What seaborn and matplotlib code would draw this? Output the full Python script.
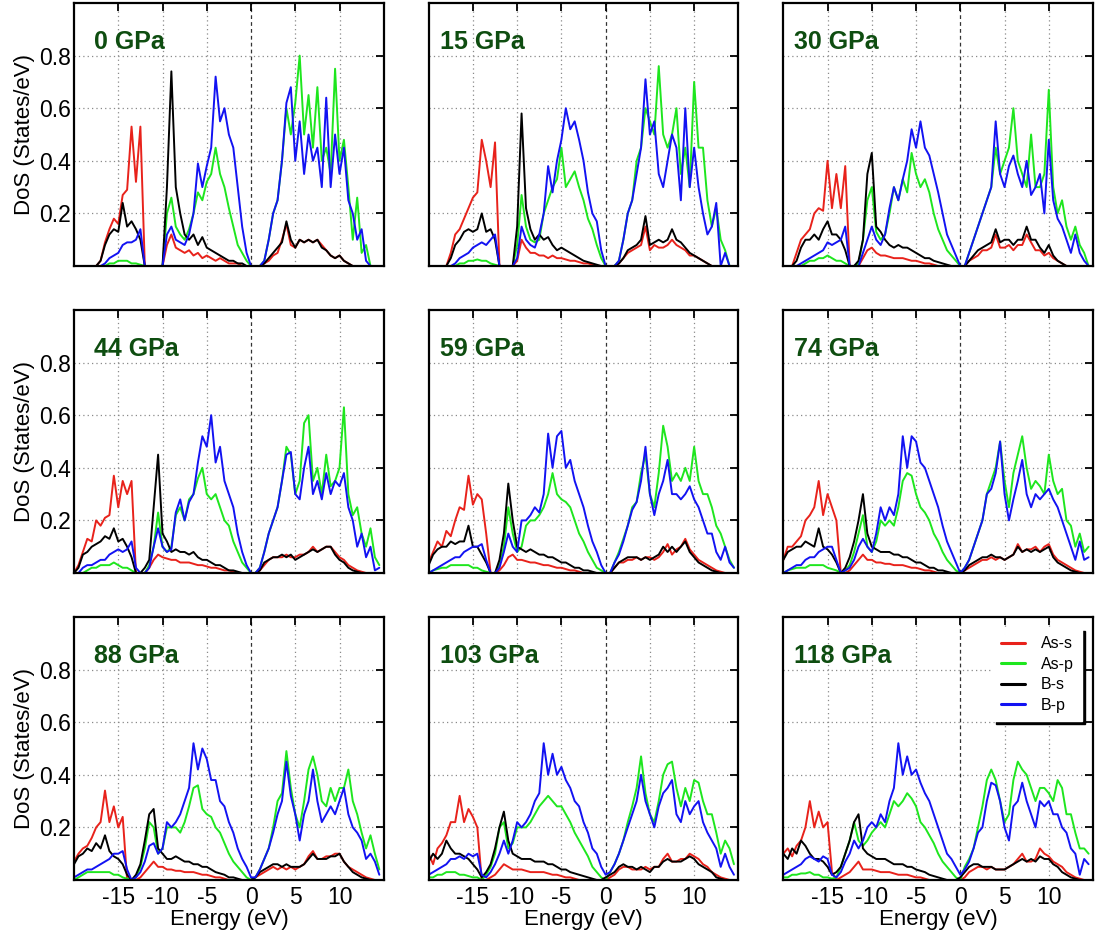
import numpy as np
import pandas as pd
import matplotlib
matplotlib.use("Agg")
import matplotlib.pyplot as plt
import seaborn as sns

# ---------------- data ----------------
pressures = ["0 GPa", "15 GPa", "30 GPa", "44 GPa", "59 GPa", "74 GPa", "88 GPa", "103 GPa", "118 GPa"]
orbitals = ["As-s", "As-p", "B-s", "B-p"]
colors = ["#e8221b", "#1ee61e", "#000000", "#1212f2"]
energy = np.linspace(-20.0, 14.5, 70)   # eV, 0.5 eV grid
xticks = [-15, -10, -5, 0, 5, 10]
yticks = [0.2, 0.4, 0.6, 0.8]

ass_0 = [0,0,0,0,0,0,.02,.09,.14,.18,.16,.27,.29,.53,.32,.53,0,0,0,0,
         0,.08,.12,.07,.06,.05,.06,.04,.05,.03,.04,.03,.02,.03,.02,.01,.01,.01,0,0,0,
         0,0,.01,.02,.04,.05,.1,.16,.08,.07,.1,.09,.1,.09,.1,.08,.06,.04,.03,.04,.02,.01,0,0,0,0,0,0,0]
asp_0 = [0,0,0,0,0,0,0,0,.01,.01,.02,.02,.02,.01,.01,.005,0,0,0,0,
         0,.2,.26,.15,.12,.1,.14,.2,.28,.25,.32,.35,.45,.35,.3,.22,.15,.08,.05,.02,0,
         0,0,.02,.1,.2,.25,.4,.6,.5,.62,.8,.5,.65,.45,.68,.4,.45,.35,.75,.4,.48,.3,.1,.26,.05,.08,0,0,0]
bs_0 = [0,0,0,0,0,0,.02,.08,.12,.14,.13,.24,.15,.17,.14,.1,0,0,0,0,
        0,.3,.74,.3,.2,.12,.1,.12,.08,.11,.07,.06,.05,.04,.03,.02,.02,.01,.01,0,0,
        0,0,.01,.03,.05,.07,.09,.17,.1,.07,.1,.09,.1,.09,.1,.07,.06,.04,.03,.04,.02,.01,0,0,0,0,0,0,0]
bp_0 = [0,0,0,0,0,0,0,.01,.03,.04,.05,.08,.09,.09,.1,.14,0,0,0,0,
        0,.12,.15,.1,.09,.08,.12,.2,.39,.3,.38,.45,.72,.55,.6,.5,.45,.3,.15,.05,0,
        0,0,.02,.1,.2,.25,.4,.62,.68,.4,.55,.35,.5,.4,.45,.3,.64,.3,.5,.35,.45,.25,.2,.1,.14,.02,0,0,0]

ass_15 = [0,0,0,0,0,.05,.12,.14,.18,.22,.26,.28,.48,.4,.3,.47,0,0,0,0,
          .02,.1,.07,.05,.05,.04,.04,.03,.04,.03,.03,.025,.02,.02,.015,.01,.01,.005,0,0,0,
          0,0,.01,.03,.05,.06,.07,.08,.15,.06,.08,.07,.07,.08,.1,.08,.07,.06,.04,.04,.03,.02,.01,0,0,0,0,0,0]
asp_15 = [0,0,0,0,0,0,0,.01,.01,.02,.02,.025,.02,.02,.01,.005,0,0,0,0,
          .08,.27,.15,.1,.09,.1,.2,.25,.3,.33,.45,.3,.33,.36,.3,.25,.18,.14,.08,.03,0,
          0,0,.02,.1,.2,.25,.4,.45,.6,.55,.5,.76,.5,.45,.5,.6,.35,.45,.3,.7,.45,.45,.25,.15,.22,.1,.06,0,0]
bs_15 = [0,0,0,0,0,.03,.08,.1,.13,.14,.13,.14,.2,.13,.14,.1,0,0,0,0,
         .15,.58,.22,.14,.1,.12,.1,.11,.08,.06,.07,.06,.05,.04,.03,.02,.015,.01,.005,0,0,
         0,0,.01,.03,.06,.07,.08,.1,.19,.08,.09,.1,.09,.1,.14,.1,.09,.07,.05,.04,.03,.02,.01,0,0,0,0,0,0]
bp_15 = [0,0,0,0,0,0,.01,.03,.04,.05,.07,.08,.09,.08,.1,.12,0,0,0,0,
         .03,.15,.1,.08,.07,.12,.2,.38,.28,.4,.48,.6,.52,.55,.48,.4,.28,.2,.17,.06,0,
         0,0,.02,.1,.2,.25,.35,.45,.71,.5,.55,.35,.3,.4,.5,.45,.25,.6,.3,.45,.3,.2,.12,.15,.24,0,.05,0,0]

ass_30 = [0,0,0,.05,.1,.12,.14,.2,.22,.21,.4,.22,.35,.22,.38,0,0,0,.03,.06,
          .07,.05,.04,.04,.035,.03,.03,.03,.025,.02,.02,.015,.01,.01,.005,0,0,0,0,0,0,
          0,.02,.03,.04,.06,.06,.07,.12,.07,.07,.08,.06,.08,.08,.12,.09,.06,.06,.04,.05,.03,.02,.01,0,0,0,0,0,0]
asp_30 = [0,0,0,0,0,.01,.02,.02,.03,.03,.04,.03,.02,.02,.01,0,0,.01,.1,.25,
          .3,.13,.1,.12,.2,.3,.25,.33,.28,.43,.35,.3,.33,.28,.2,.14,.1,.06,.04,.02,0,
          0,.05,.1,.15,.2,.25,.3,.45,.35,.4,.45,.6,.4,.35,.3,.5,.3,.3,.35,.67,.3,.2,.25,.15,.1,.15,.08,.05,0]
bs_30 = [0,0,0,.02,.07,.1,.1,.12,.1,.14,.17,.12,.12,.1,.06,0,0,.02,.1,.35,
         .43,.15,.13,.1,.08,.07,.08,.07,.07,.06,.05,.04,.03,.03,.02,.015,.01,.005,0,0,0,
         0,.02,.04,.06,.07,.08,.09,.14,.09,.1,.1,.08,.1,.1,.15,.1,.1,.07,.05,.08,.04,.02,.01,0,0,0,0,0,0]
bp_30 = [0,0,0,0,.01,.02,.03,.04,.05,.06,.09,.08,.09,.1,.15,0,0,0,.05,.1,
         .15,.1,.08,.12,.22,.3,.25,.33,.4,.52,.45,.55,.45,.42,.35,.28,.2,.12,.08,.04,0,
         0,.05,.1,.15,.2,.25,.3,.55,.35,.3,.38,.42,.35,.3,.4,.27,.3,.35,.2,.48,.25,.18,.15,.1,.05,.12,.05,.02,0]

ass_44 = [0,.03,.08,.13,.12,.2,.18,.21,.22,.37,.25,.35,.3,.35,0,0,0,.02,.05,.07,
          .06,.055,.05,.05,.04,.04,.04,.035,.03,.03,.025,.02,.02,.015,.01,.01,.005,0,0,0,0,
          0,.01,.03,.05,.06,.06,.06,.07,.06,.06,.07,.07,.08,.1,.08,.09,.1,.1,.08,.06,.05,.03,.02,.01,.005,0,0,0,0]
asp_44 = [0,0,0,.01,.02,.02,.03,.03,.03,.04,.03,.02,.02,.01,0,0,0,.03,.1,.23,
          .1,.08,.1,.22,.25,.2,.28,.3,.36,.4,.3,.28,.3,.25,.2,.18,.12,.08,.04,.02,0,
          0,.02,.08,.15,.2,.25,.35,.48,.45,.3,.35,.57,.6,.35,.4,.3,.45,.33,.35,.4,.63,.3,.22,.25,.15,.1,.17,.06,.03]
bs_44 = [0,.02,.07,.08,.1,.11,.12,.14,.13,.17,.12,.13,.1,.06,0,0,.02,.05,.25,.45,
         .15,.12,.08,.09,.08,.08,.07,.08,.06,.05,.05,.04,.03,.03,.02,.01,.01,.005,0,0,0,
         0,.01,.04,.05,.06,.06,.07,.06,.07,.05,.06,.07,.08,.09,.08,.09,.1,.1,.07,.05,.04,.02,.01,.005,0,0,0,0,0]
bp_44 = [0,0,.02,.03,.03,.04,.05,.05,.07,.08,.09,.08,.09,.12,.02,0,0,.02,.1,.17,
         .1,.08,.09,.23,.28,.2,.27,.3,.42,.52,.48,.6,.42,.48,.35,.3,.25,.15,.08,.03,0,
         0,.02,.08,.15,.2,.25,.35,.45,.46,.3,.28,.4,.48,.3,.35,.28,.38,.3,.35,.33,.38,.25,.2,.1,.15,.06,.1,.01,.02]

ass_59 = [.04,.08,.12,.1,.16,.14,.2,.25,.24,.37,.26,.3,.28,.15,0,0,.01,.03,.06,.07,
          .05,.05,.045,.04,.04,.035,.03,.03,.025,.02,.02,.015,.01,.01,.005,0,0,0,0,0,0,
          0,.02,.04,.04,.05,.05,.06,.05,.06,.06,.05,.06,.08,.11,.07,.09,.1,.13,.09,.07,.05,.04,.03,.02,.01,.005,0,0,0]
asp_59 = [0,.01,.015,.02,.02,.03,.03,.03,.03,.03,.02,.02,.01,.005,0,0,.03,.1,.25,.15,
          .08,.1,.18,.2,.2,.22,.25,.3,.38,.3,.28,.27,.25,.2,.15,.12,.08,.05,.02,.01,0,
          0,.04,.08,.13,.18,.25,.27,.38,.45,.3,.25,.38,.56,.48,.35,.38,.35,.4,.35,.48,.35,.3,.3,.25,.18,.15,.1,.05,.02]
bs_59 = [.03,.07,.09,.1,.1,.12,.11,.12,.12,.18,.1,.1,.07,.04,0,0,.05,.15,.34,.2,
         .1,.09,.08,.09,.08,.07,.07,.06,.06,.05,.04,.04,.03,.02,.02,.01,.01,.005,0,0,0,
         0,.02,.04,.05,.06,.06,.06,.05,.06,.05,.06,.07,.1,.08,.1,.08,.1,.12,.08,.06,.04,.03,.02,.01,.005,0,0,0,0]
bp_59 = [0,.01,.02,.03,.04,.05,.06,.06,.08,.09,.1,.1,.11,.05,0,0,.02,.08,.15,.1,
         .08,.2,.2,.22,.25,.23,.3,.53,.4,.52,.54,.4,.43,.35,.3,.25,.18,.12,.08,.03,0,
         0,.04,.07,.12,.18,.24,.27,.35,.48,.3,.22,.3,.35,.43,.3,.3,.28,.3,.33,.28,.25,.2,.15,.15,.08,.05,.1,.04,.02]

ass_74 = [.05,.1,.1,.12,.14,.2,.22,.25,.35,.22,.3,.25,.2,0,0,.01,.03,.05,.07,.05,
          .05,.04,.04,.035,.035,.03,.03,.03,.025,.02,.02,.015,.01,.01,.005,0,0,0,0,0,0,
          .01,.02,.03,.04,.05,.05,.06,.05,.06,.05,.06,.07,.11,.08,.09,.09,.1,.08,.1,.11,.07,.05,.04,.03,.02,.01,.005,0,0]
asp_74 = [0,.01,.015,.02,.02,.02,.03,.03,.03,.03,.02,.015,.01,0,.01,.03,.08,.15,.22,.1,
          .08,.12,.2,.18,.2,.18,.25,.35,.38,.37,.3,.25,.23,.2,.15,.12,.08,.05,.03,.01,0,
          .02,.05,.1,.15,.2,.3,.35,.4,.5,.35,.25,.38,.45,.52,.4,.32,.35,.33,.3,.45,.35,.3,.32,.2,.18,.1,.15,.08,.1]
bs_74 = [.05,.08,.09,.1,.1,.12,.11,.1,.17,.1,.09,.07,.04,0,.02,.06,.12,.2,.3,.15,
         .1,.09,.08,.08,.08,.07,.07,.06,.06,.05,.04,.04,.03,.02,.02,.01,.01,.005,0,0,0,
         .01,.03,.04,.05,.06,.06,.07,.06,.06,.05,.06,.07,.1,.08,.09,.08,.09,.08,.09,.1,.06,.04,.03,.02,.01,.005,0,0,0]
bp_74 = [0,.01,.02,.03,.03,.05,.06,.06,.08,.09,.1,.1,.05,0,.01,.02,.05,.1,.13,.1,
         .08,.15,.25,.2,.25,.22,.3,.52,.4,.52,.5,.42,.4,.35,.3,.25,.18,.12,.08,.04,0,
         .02,.05,.1,.15,.2,.3,.32,.38,.5,.3,.2,.28,.35,.43,.3,.25,.3,.28,.3,.32,.28,.25,.2,.15,.1,.05,.12,.05,.06]

ass_88 = [.07,.1,.12,.13,.16,.2,.22,.34,.22,.28,.2,.24,0,0,0,.01,.03,.05,.07,.05,
          .05,.04,.04,.035,.035,.03,.03,.03,.025,.02,.02,.015,.01,.01,.005,0,0,0,0,0,0,
          .01,.02,.03,.04,.05,.04,.05,.04,.05,.04,.05,.06,.09,.11,.08,.08,.09,.09,.1,.1,.07,.05,.04,.03,.02,.01,.005,0,0]
asp_88 = [0,.01,.02,.03,.03,.03,.03,.03,.03,.02,.02,.01,.005,0,.01,.05,.12,.22,.2,.1,
          .12,.2,.2,.2,.18,.22,.28,.35,.36,.27,.25,.24,.2,.18,.14,.1,.07,.05,.03,.01,0,
          .01,.04,.08,.12,.2,.3,.33,.49,.35,.25,.2,.3,.42,.47,.4,.3,.28,.35,.3,.35,.35,.42,.3,.25,.18,.12,.17,.1,.04]
bs_88 = [.06,.09,.1,.12,.11,.14,.12,.17,.11,.09,.08,.06,.02,0,.02,.06,.15,.25,.27,.12,
         .1,.08,.08,.09,.08,.07,.07,.06,.06,.05,.05,.04,.03,.025,.02,.01,.01,.005,0,0,0,
         .01,.03,.04,.05,.06,.06,.05,.06,.05,.05,.05,.06,.08,.1,.08,.08,.08,.09,.09,.1,.07,.05,.03,.02,.01,.005,0,0,0]
bp_88 = [.01,.02,.03,.04,.04,.05,.06,.07,.08,.1,.1,.11,.04,0,.01,.03,.07,.13,.14,.1,
         .12,.22,.2,.22,.25,.3,.35,.52,.42,.5,.46,.38,.38,.3,.28,.22,.18,.12,.08,.05,.01,
         .01,.04,.08,.12,.18,.25,.3,.45,.32,.25,.15,.25,.3,.42,.3,.22,.25,.28,.25,.3,.35,.25,.2,.18,.15,.08,.1,.07,.02]

ass_103 = [.1,.06,.12,.14,.17,.22,.22,.32,.22,.27,.24,.2,0,0,.01,.02,.04,.06,.05,.04,
           .04,.04,.035,.03,.03,.03,.03,.025,.02,.02,.015,.01,.01,.005,0,0,0,0,0,0,0,
           .01,.02,.04,.05,.05,.04,.04,.04,.05,.04,.05,.05,.08,.1,.07,.07,.08,.08,.1,.09,.08,.06,.05,.03,.02,.01,.005,0,0]
asp_103 = [.01,.01,.02,.02,.03,.03,.03,.02,.02,.015,.01,.01,0,.02,.05,.1,.2,.22,.12,.14,
           .2,.2,.2,.22,.25,.28,.3,.32,.3,.28,.28,.25,.22,.18,.15,.12,.09,.05,.03,.01,0,
           .03,.06,.1,.15,.22,.28,.35,.47,.33,.25,.22,.3,.4,.44,.45,.35,.28,.35,.3,.38,.37,.3,.25,.25,.18,.1,.15,.12,.06]
bs_103 = [.07,.1,.08,.1,.15,.12,.1,.1,.09,.08,.06,.04,.01,.03,.06,.12,.2,.26,.15,.1,
          .09,.08,.08,.08,.07,.07,.07,.06,.06,.05,.04,.04,.03,.025,.02,.015,.01,.005,0,0,.01,
          .02,.03,.05,.06,.05,.05,.04,.05,.04,.03,.05,.05,.07,.08,.07,.07,.07,.08,.09,.08,.06,.05,.04,.03,.01,.005,0,0,0]
bp_103 = [.02,.03,.04,.05,.06,.08,.08,.09,.08,.1,.09,.1,.02,.01,.03,.06,.1,.15,.1,.15,
          .22,.2,.22,.25,.3,.33,.52,.4,.48,.4,.43,.38,.35,.3,.28,.22,.18,.12,.1,.05,.02,
          .03,.06,.1,.15,.2,.25,.3,.4,.3,.25,.2,.28,.33,.35,.38,.25,.22,.3,.25,.28,.3,.22,.18,.15,.12,.05,.1,.05,.02]

ass_118 = [.1,.12,.09,.13,.15,.2,.3,.2,.26,.2,.22,.03,0,.01,.02,.03,.05,.07,.04,.04,
           .04,.035,.03,.03,.03,.025,.02,.02,.02,.015,.01,.01,.005,0,0,0,0,0,0,0,0,
           .01,.03,.04,.05,.05,.04,.05,.04,.04,.04,.05,.06,.08,.1,.07,.07,.08,.12,.1,.09,.07,.06,.05,.03,.02,.01,.005,0,0]
asp_118 = [.01,.01,.02,.02,.025,.025,.03,.02,.02,.01,.01,.005,.01,.05,.1,.15,.22,.15,.13,.15,
           .18,.2,.22,.2,.25,.3,.28,.3,.33,.31,.28,.22,.2,.17,.14,.1,.07,.05,.03,.01,0,
           .05,.08,.12,.2,.28,.38,.42,.38,.3,.22,.25,.38,.45,.42,.4,.35,.3,.35,.35,.33,.3,.38,.35,.25,.25,.18,.12,.12,.1]
bs_118 = [.1,.08,.12,.1,.15,.13,.1,.08,.08,.07,.05,.02,.03,.05,.1,.15,.22,.25,.12,.1,
          .09,.08,.08,.08,.07,.06,.06,.06,.05,.05,.04,.035,.03,.02,.015,.01,.005,0,0,0,.01,
          .03,.05,.06,.06,.05,.05,.05,.04,.04,.04,.05,.06,.07,.08,.07,.08,.07,.09,.08,.08,.06,.05,.03,.02,.01,.005,0,0,0]
bp_118 = [.02,.03,.04,.05,.06,.08,.09,.08,.07,.09,.08,.02,.01,.03,.07,.1,.15,.12,.15,.2,
          .22,.2,.25,.22,.3,.35,.52,.4,.47,.4,.42,.37,.33,.3,.25,.2,.15,.1,.08,.05,.02,
          .04,.07,.12,.18,.2,.3,.37,.36,.3,.2,.15,.28,.3,.37,.3,.25,.2,.3,.28,.3,.25,.25,.2,.18,.12,.1,.02,.08,.06]

panels = [
    (ass_0, asp_0, bs_0, bp_0),
    (ass_15, asp_15, bs_15, bp_15),
    (ass_30, asp_30, bs_30, bp_30),
    (ass_44, asp_44, bs_44, bp_44),
    (ass_59, asp_59, bs_59, bp_59),
    (ass_74, asp_74, bs_74, bp_74),
    (ass_88, asp_88, bs_88, bp_88),
    (ass_103, asp_103, bs_103, bp_103),
    (ass_118, asp_118, bs_118, bp_118),
]
for k, p in enumerate(panels):
    for j, s in enumerate(p):
        if len(s) != len(energy):
            raise ValueError(f"panel {pressures[k]} series {orbitals[j]} has {len(s)} values")

# ---------------- style ----------------
sns.set_theme(style="white")
plt.rcParams["font.family"] = ["Liberation Sans", "DejaVu Sans"]
plt.rcParams["axes.unicode_minus"] = False
for key in ["text.color", "axes.labelcolor", "xtick.color", "ytick.color", "axes.edgecolor"]:
    plt.rcParams[key] = "black"

fig, axes = plt.subplots(3, 3, figsize=(10.95, 9.33), dpi=100)
fig.subplots_adjust(left=0.0676, right=0.9982, bottom=0.0568, top=0.9968,
                    wspace=0.145, hspace=0.167)

for k, ax in enumerate(axes.flat):
    r, c = divmod(k, 3)
    frames = [pd.DataFrame({"Energy": energy, "DoS": vals, "Orbital": name})
              for name, vals in zip(orbitals, panels[k])]
    df = pd.concat(frames, ignore_index=True)
    sns.lineplot(data=df, x="Energy", y="DoS", hue="Orbital", hue_order=orbitals,
                 palette=colors, estimator=None, sort=False, linewidth=1.4,
                 ax=ax, legend=("brief" if k == 8 else False))
    ax.set_xlim(-20, 15)
    ax.set_ylim(0, 1.0)
    ax.set_xticks(xticks)
    ax.set_yticks(yticks)
    ax.grid(True, linestyle=(0, (1, 2.5)), color="#8a8a8a", linewidth=0.9)
    zero_line = ax.get_xgridlines()[xticks.index(0)]
    zero_line.set_linestyle((0, (3, 2.5)))
    zero_line.set_color("#333333")
    ax.tick_params(direction="in", length=6, width=1.3, top=True, right=True,
                   labelsize=16.5, labelleft=(c == 0), labelbottom=(r == 2))
    ax.tick_params(axis="y", pad=2)
    ax.tick_params(axis="x", pad=4)
    for sp in ax.spines.values():
        sp.set_linewidth(1.6)
        sp.set_color("black")
    ax.set_xlabel("Energy (eV)" if r == 2 else "", fontsize=16, labelpad=0)
    ax.set_ylabel("DoS (States/eV)" if c == 0 else "", fontsize=16, labelpad=3)
    ax.text(0.066 if c == 0 else 0.035, 0.85, pressures[k], transform=ax.transAxes,
            fontsize=18, fontweight="bold", color="#0e4d10", ha="left", va="center")
    if k == 8:
        h, l = ax.get_legend_handles_labels()
        leg = ax.legend(h, l, loc="upper right", fontsize=11.5, frameon=True, fancybox=False,
                        shadow={"color": "black", "alpha": 1, "ox": 2, "oy": -2},
                        framealpha=1, facecolor="white", edgecolor="white",
                        handlelength=1.5, handletextpad=1.0, labelspacing=0.35,
                        borderpad=0.5, borderaxespad=0.7)
        for line in leg.get_lines():
            line.set_linewidth(2.2)

fig.savefig("out.png", dpi=100)
